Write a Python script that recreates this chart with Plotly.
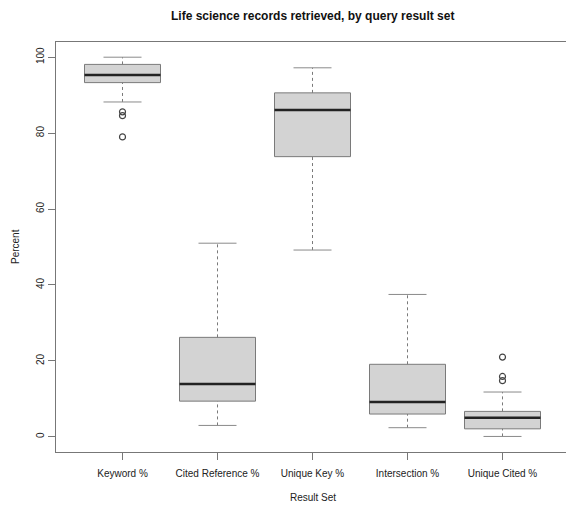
import plotly.graph_objects as go

categories = ["Keyword %", "Cited Reference %", "Unique Key %", "Intersection %", "Unique Cited %"]
lower_whisker = [88.2, 3.0, 49.2, 2.4, 0.1]
q1 = [93.3, 9.4, 73.8, 6.0, 2.1]
median = [95.3, 13.9, 86.1, 9.2, 5.0]
q3 = [98.1, 26.2, 90.6, 19.1, 6.7]
upper_whisker = [100.0, 51.0, 97.2, 37.5, 11.8]
outliers = [[85.6, 84.6, 79.0], [], [], [], [21.0, 15.9, 14.8]]

FONT = "Liberation Sans, Arial, sans-serif"
TXT = "#222222"
pos = list(range(1, len(categories) + 1))
half_box = 0.4
half_cap = 0.2

fig = go.Figure()

# boxes
bx, by = [], []
for p, a, b in zip(pos, q1, q3):
    bx += [p - half_box, p + half_box, p + half_box, p - half_box, p - half_box, None]
    by += [a, a, b, b, a, None]
fig.add_trace(go.Scatter(x=bx, y=by, mode="lines", fill="toself", fillcolor="#d3d3d3",
                         line=dict(color="#7a7a7a", width=1), hoverinfo="skip"))

# whiskers (dashed)
wx, wy = [], []
for p, lo, a, b, hi in zip(pos, lower_whisker, q1, q3, upper_whisker):
    wx += [p, p, None, p, p, None]
    wy += [lo, a, None, b, hi, None]
fig.add_trace(go.Scatter(x=wx, y=wy, mode="lines", line=dict(color="#7a7a7a", width=1, dash="3px,3px"),
                         hoverinfo="skip"))

# caps
cx, cy = [], []
for p, lo, hi in zip(pos, lower_whisker, upper_whisker):
    cx += [p - half_cap, p + half_cap, None, p - half_cap, p + half_cap, None]
    cy += [lo, lo, None, hi, hi, None]
fig.add_trace(go.Scatter(x=cx, y=cy, mode="lines", line=dict(color="#8a8a8a", width=1), hoverinfo="skip"))

# medians
mx, my = [], []
for p, m in zip(pos, median):
    mx += [p - half_box, p + half_box, None]
    my += [m, m, None]
fig.add_trace(go.Scatter(x=mx, y=my, mode="lines", line=dict(color="#222222", width=2.5), hoverinfo="skip"))

# outliers
ox, oy = [], []
for p, vals in zip(pos, outliers):
    for v in vals:
        ox.append(p)
        oy.append(v)
fig.add_trace(go.Scatter(x=ox, y=oy, mode="markers",
                         marker=dict(symbol="circle-open", size=6, color="#444444", line=dict(width=1.2))))

fig.update_layout(
    width=566, height=508,
    margin=dict(l=56, r=0, t=42, b=56),
    paper_bgcolor="white", plot_bgcolor="white",
    showlegend=False,
    font=dict(family=FONT, size=10, color=TXT),
    xaxis=dict(range=[0.3, 0.3 + 510 / 95], tickmode="array", tickvals=pos, ticktext=categories,
               showgrid=False, zeroline=False, showline=True, linecolor="#777777", linewidth=1,
               mirror=True, ticks="outside", ticklen=7, tickcolor="#777777", ticklabelstandoff=5,
               tickfont=dict(size=10, color=TXT)),
    yaxis=dict(range=[-4, 104], tickmode="array", tickvals=[0, 20, 40, 60, 80, 100],
               showgrid=False, zeroline=False, showline=True, linecolor="#777777", linewidth=1,
               ticks="outside", ticklen=7, tickcolor="#777777", tickangle=-90,
               tickfont=dict(size=10, color=TXT)),
    annotations=[
        dict(text="<b>Life science records retrieved, by query result set</b>", x=3, xref="x",
             y=1, yref="paper", yshift=26, yanchor="middle", showarrow=False,
             font=dict(size=12, color="#111111")),
        dict(text="Result Set", x=3, xref="x", y=0, yref="paper", yshift=-45, yanchor="middle",
             showarrow=False, font=dict(size=10, color=TXT)),
        dict(text="Percent", x=0, xref="paper", xshift=-41, y=0.5, yref="paper", textangle=-90,
             xanchor="center", showarrow=False, font=dict(size=10, color=TXT)),
    ],
)

fig.write_html("out.html")
